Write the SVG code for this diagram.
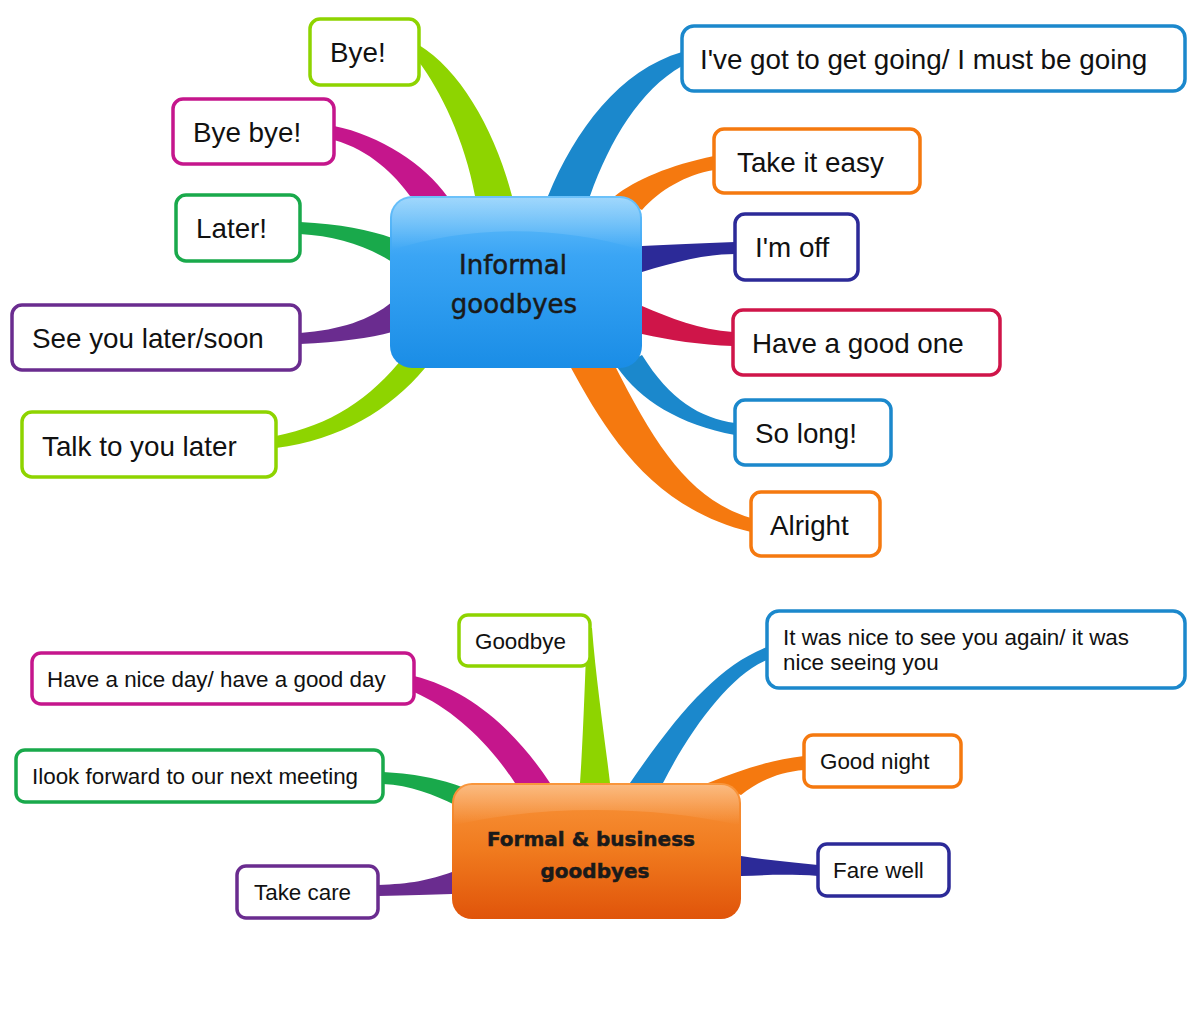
<svg xmlns="http://www.w3.org/2000/svg" width="1200" height="1009" viewBox="0 0 1200 1009">
<defs>
<linearGradient id="gBlue" x1="0" y1="0" x2="0" y2="1">
<stop offset="0" stop-color="#6cc2fa"/>
<stop offset="0.35" stop-color="#3aa5f5"/>
<stop offset="1" stop-color="#1a8de6"/>
</linearGradient>
<linearGradient id="gOrange" x1="0" y1="0" x2="0" y2="1">
<stop offset="0" stop-color="#f9963c"/>
<stop offset="0.5" stop-color="#f07a1e"/>
<stop offset="1" stop-color="#e0540a"/>
</linearGradient>
<linearGradient id="gloss" x1="0" y1="0" x2="0" y2="1">
<stop offset="0" stop-color="#ffffff" stop-opacity="0.35"/>
<stop offset="1" stop-color="#ffffff" stop-opacity="0"/>
</linearGradient>
</defs>
<style>
.box{fill:#fff;stroke-width:3.5}
.t{font-family:"Liberation Sans",Arial,sans-serif;fill:#111}
.big{font-size:27.8px}
.sm{font-size:22.4px}
.lg{stroke:#8ed400}.mg{stroke:#c5168c}.gr{stroke:#19a94b}.pu{stroke:#6a2c8f}
.bl{stroke:#1b88cc}.or{stroke:#f5790f}.db{stroke:#2c2a98}.cr{stroke:#cf1549}
.ct{font-family:"DejaVu Sans",sans-serif;fill:#1a1a1a;text-anchor:middle;stroke:#1a1a1a;stroke-width:0.5}
</style>
<rect width="1200" height="1009" fill="#fff"/>
<g id="connectors">
<path fill="#8ed400" d="M419,45 C460,70 495,130 512,196 L475,196 C465,140 440,90 419,62 Z"/>
<path fill="#c5168c" d="M334,126 C380,135 425,165 447,196 L410,196 C395,175 370,150 334,140 Z"/>
<path fill="#19a94b" d="M300,222 C340,224 370,230 392,238 L392,262 C365,245 335,236 300,234 Z"/>
<path fill="#6a2c8f" d="M300,333 C340,330 370,320 392,302 L392,332 C370,338 340,342 300,344 Z"/>
<path fill="#8ed400" d="M276,436 C330,425 370,400 405,355 L425,368 C390,410 340,440 276,448 Z"/>
<path fill="#1b88cc" d="M682,52 C620,70 575,130 548,196 L590,196 C610,140 640,90 682,66 Z"/>
<path fill="#f5790f" d="M714,156 C670,165 635,180 615,196 L642,210 C660,190 685,175 714,170 Z"/>
<path fill="#2c2a98" d="M735,242 C700,243 670,245 642,246 L642,272 C675,262 705,254 735,254 Z"/>
<path fill="#cf1549" d="M733,332 C700,330 670,318 642,306 L642,334 C670,340 700,345 733,346 Z"/>
<path fill="#1b88cc" d="M735,423 C700,418 670,400 642,355 L617,367 C640,400 680,425 735,435 Z"/>
<path fill="#f5790f" d="M570,366 C605,430 650,508 751,532 L751,518 C690,500 655,445 615,366 Z"/>
<path fill="#8ed400" d="M592,628 C596,680 605,740 610,783 L580,783 C583,740 585,680 587,628 Z"/>
<path fill="#c5168c" d="M414,676 C470,690 515,730 550,783 L515,783 C490,745 455,710 414,692 Z"/>
<path fill="#19a94b" d="M383,772 C420,774 445,780 470,790 L455,805 C435,795 410,785 383,784 Z"/>
<path fill="#6a2c8f" d="M378,885 C410,884 430,880 452,872 L452,894 C430,895 410,895 378,896 Z"/>
<path fill="#1b88cc" d="M767,647 C720,665 680,710 630,783 L663,783 C690,730 730,675 767,660 Z"/>
<path fill="#f5790f" d="M804,756 C770,760 740,770 708,783 L741,795 C760,780 780,772 804,770 Z"/>
<path fill="#2c2a98" d="M818,865 C790,862 765,860 741,856 L741,876 C765,875 790,874 818,876 Z"/>
</g>
<g id="informal">
<rect x="390" y="196" width="252" height="172" rx="22" fill="url(#gBlue)"/>
<path d="M412,198 H620 A20,20 0 0 1 640,218 V250 C560,225 470,225 392,250 V218 A20,20 0 0 1 412,198 Z" fill="url(#gloss)"/>
<text class="ct" x="513" y="274" font-size="26">Informal</text>
<text class="ct" x="514" y="313" font-size="26">goodbyes</text>
</g>
<g id="formal">
<rect x="452" y="783" width="289" height="136" rx="20" fill="url(#gOrange)"/>
<path d="M472,785 H721 A18,18 0 0 1 739,803 V825 C650,805 540,805 454,825 V803 A18,18 0 0 1 472,785 Z" fill="url(#gloss)"/>
<text class="ct" x="591" y="846" font-size="20" font-weight="bold">Formal &amp; business</text>
<text class="ct" x="595" y="878" font-size="20" font-weight="bold">goodbyes</text>
</g>
<g id="n-bye"><rect class="box lg" x="310" y="19" width="109" height="66" rx="10"/><text class="t big" x="330" y="62">Bye!</text></g>
<g id="n-byebye"><rect class="box mg" x="173" y="99" width="161" height="65" rx="10"/><text class="t big" x="193" y="142">Bye bye!</text></g>
<g id="n-later"><rect class="box gr" x="176" y="195" width="124" height="66" rx="10"/><text class="t big" x="196" y="238">Later!</text></g>
<g id="n-seeyou"><rect class="box pu" x="12" y="305" width="288" height="65" rx="10"/><text class="t big" x="32" y="348">See you later/soon</text></g>
<g id="n-talk"><rect class="box lg" x="22" y="412" width="254" height="65" rx="10"/><text class="t big" x="42" y="456">Talk to you later</text></g>
<g id="n-going"><rect class="box bl" x="682" y="26" width="503" height="65" rx="12"/><text class="t big" x="700" y="69">I've got to get going/ I must be going</text></g>
<g id="n-easy"><rect class="box or" x="714" y="129" width="206" height="64" rx="10"/><text class="t big" x="737" y="172">Take it easy</text></g>
<g id="n-off"><rect class="box db" x="735" y="214" width="123" height="66" rx="10"/><text class="t big" x="755" y="257">I'm off</text></g>
<g id="n-goodone"><rect class="box cr" x="733" y="310" width="267" height="65" rx="10"/><text class="t big" x="752" y="353">Have a good one</text></g>
<g id="n-solong"><rect class="box bl" x="735" y="400" width="156" height="65" rx="10"/><text class="t big" x="755" y="443">So long!</text></g>
<g id="n-alright"><rect class="box or" x="751" y="492" width="129" height="64" rx="10"/><text class="t big" x="770" y="535">Alright</text></g>
<g id="n-goodbye"><rect class="box lg" x="459" y="615" width="131" height="51" rx="9"/><text class="t sm" x="475" y="649">Goodbye</text></g>
<g id="n-niceday"><rect class="box mg" x="32" y="653" width="382" height="51" rx="9"/><text class="t sm" x="47" y="687">Have a nice day/ have a good day</text></g>
<g id="n-forward"><rect class="box gr" x="16" y="750" width="367" height="52" rx="9"/><text class="t sm" x="32" y="784">Ilook forward to our next meeting</text></g>
<g id="n-takecare"><rect class="box pu" x="237" y="866" width="141" height="52" rx="9"/><text class="t sm" x="254" y="900">Take care</text></g>
<g id="n-nice"><rect class="box bl" x="767" y="611" width="418" height="77" rx="12"/><text class="t sm" x="783" y="645">It was nice to see you again/ it was</text><text class="t sm" x="783" y="670">nice seeing you</text></g>
<g id="n-night"><rect class="box or" x="804" y="735" width="157" height="52" rx="9"/><text class="t sm" x="820" y="769">Good night</text></g>
<g id="n-farewell"><rect class="box db" x="818" y="844" width="131" height="52" rx="9"/><text class="t sm" x="833" y="878">Fare well</text></g>
</svg>
